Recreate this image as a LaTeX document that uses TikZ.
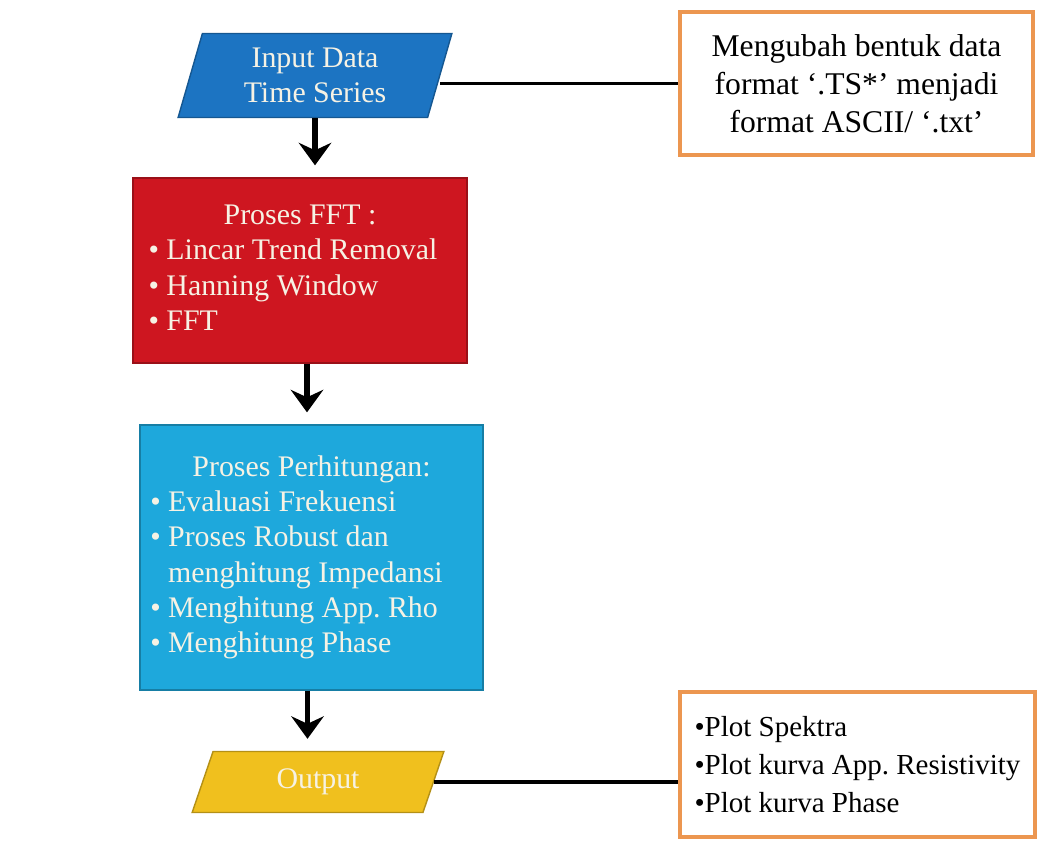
\documentclass[tikz,border=0pt]{standalone}
\usepackage{fontspec}
\setmainfont{Liberation Serif}
\usetikzlibrary{shapes.geometric,arrows.meta}
\frenchspacing

\definecolor{inblue}{RGB}{28,116,194}
\definecolor{fftred}{RGB}{206,22,32}
\definecolor{calccyan}{RGB}{30,168,220}
\definecolor{outyellow}{RGB}{240,192,30}
\definecolor{noteorange}{RGB}{236,150,80}
\definecolor{boxtext}{RGB}{246,242,228}

\tikzset{
  flowbox/.style={draw=#1!75!black, fill=#1, text=boxtext, line width=0.8pt,
    font=\fontsize{17}{20}\selectfont},
  iobox/.style={flowbox=#1, trapezium, trapezium stretches=true,
    trapezium left angle=76, trapezium right angle=104},
  notebox/.style={draw=noteorange, line width=1.8pt, fill=white,
    font=\fontsize{18}{21.5}\selectfont},
  link/.style={line width=1.8pt},
  arr/.style={line width=3.2pt, -{Stealth[length=4.5mm,width=6.5mm,inset=1.5mm]},
    shorten >=0.24cm},
}

\begin{document}
\begin{tikzpicture}[x=0.02cm, y=-0.02cm]

  \useasboundingbox (0,0) rectangle (1037,856);

  % ---- Input ----
  \node[iobox=inblue, minimum width=5.48cm, minimum height=1.68cm, align=center]
    (inp) at (315,75.5) {Input Data\\Time Series};

  % ---- Proses FFT ----
  \node[flowbox=fftred, minimum width=6.68cm, minimum height=3.7cm] (fft)
    at (300,270.5)
    {\begin{tabular}{@{}l@{\hspace{0.28cm}}}
       \multicolumn{1}{@{}c@{}}{Proses FFT :}\\
       \textbullet\ Lincar Trend Removal\\
       \textbullet\ Hanning Window\\
       \textbullet\ FFT
     \end{tabular}};

  % ---- Proses Perhitungan ----
  \node[flowbox=calccyan, minimum width=6.86cm, minimum height=5.3cm] (calc)
    at (311.5,557.5)
    {\begin{tabular}{@{}l@{\hspace{0.6cm}}}
       \multicolumn{1}{@{}c@{}}{Proses Perhitungan:}\\
       \textbullet\ Evaluasi Frekuensi\\
       \textbullet\ Proses Robust dan\\
       \hphantom{\textbullet\ }menghitung Impedansi\\
       \textbullet\ Menghitung App. Rho\\
       \textbullet\ Menghitung Phase
     \end{tabular}};

  % ---- Output ----
  \node[iobox=outyellow, minimum width=5.06cm, minimum height=1.22cm]
    (out) at (318,782) {Output};

  % ---- Notes ----
  \node[notebox, minimum width=7.06cm, minimum height=2.86cm, align=center]
    (note) at (856.5,83.5)
    {Mengubah bentuk data\\format `.TS*' menjadi\\format ASCII/ `.txt'};
  \node[notebox, font=\fontsize{16.5}{21.5}\selectfont, minimum width=7.1cm,
    minimum height=2.9cm, align=left] (plots) at (857.5,764.5)
    {\textbullet Plot Spektra\\
     \textbullet Plot kurva App. Resistivity\\
     \textbullet Plot kurva Phase};

  % flow arrows
  \draw[arr] (inp.south) -- (inp.south |- fft.north);
  \draw[arr] ([xshift=0.14cm]fft.south) -- ([xshift=0.14cm]fft.south |- calc.north);
  \draw[arr] ([xshift=-0.08cm]calc.south) -- ([xshift=-0.08cm]calc.south |- out.north);

  % lines to the notes
  \draw[link] (inp.east |- note.west) -- (note.west);
  \draw[link] (out.east) -- (out.east -| plots.west);

\end{tikzpicture}
\end{document}
